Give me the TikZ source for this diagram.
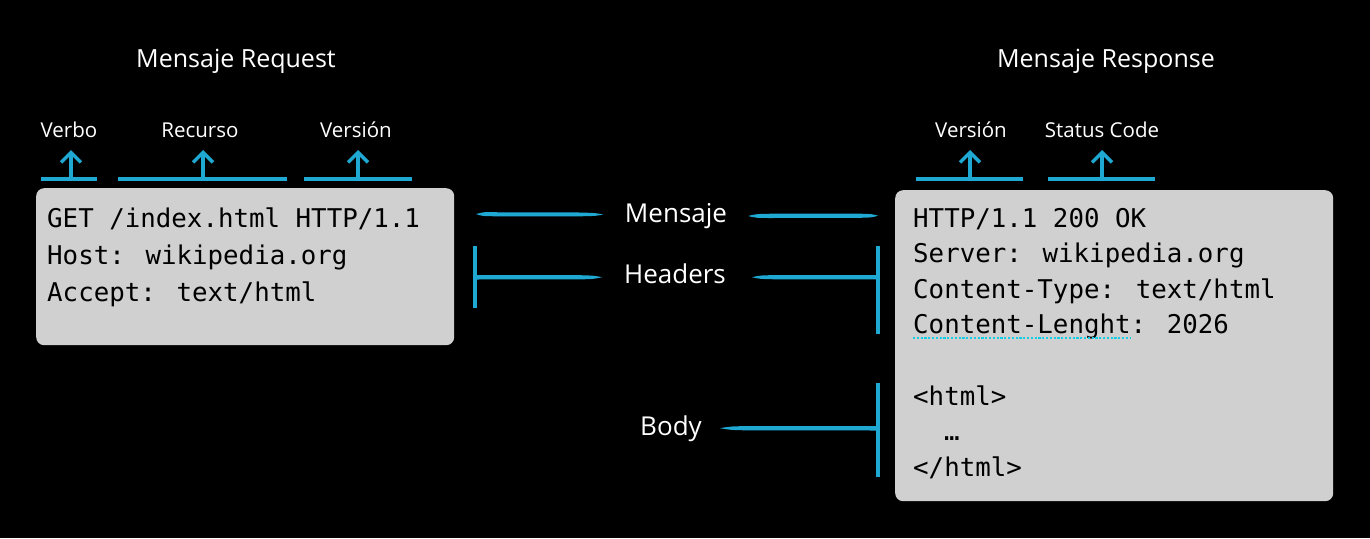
\documentclass[tikz,border=0pt]{standalone}
\usepackage{fontspec}
\setmainfont{Open Sans}
\newfontfamily\codefont{DejaVu Sans Mono}
\usetikzlibrary{arrows.meta,calc}
\definecolor{hl}{RGB}{30,168,210}
\definecolor{boxgray}{RGB}{208,208,208}
\definecolor{squig}{RGB}{20,205,230}
\begin{document}
\begin{tikzpicture}[x=1pt,y=-1pt,
  codebox/.style={fill=boxgray,draw=none,rounded corners=8pt,inner sep=0pt,anchor=north west},
  code/.style={font=\codefont\fontsize{25.8}{30}\selectfont,text=black,inner sep=0pt,anchor=base west},
  title/.style={font=\fontsize{25}{30}\selectfont,text=white,inner sep=0pt,anchor=base},
  small/.style={font=\fontsize{20.5}{24}\selectfont,text=white,inner sep=0pt,anchor=base},
  mid/.style={font=\fontsize{26}{30}\selectfont,text=white,inner sep=0pt,anchor=base},
  bar/.style={draw=hl,line width=4pt},
  uparrow/.style={draw=hl,line width=3.5pt,-{Straight Barb[length=10pt,width=20pt]}},
  brush/.style={fill=hl,draw=none}
]
\fill[black] (0,0) rectangle (1370,538);
\useasboundingbox (0,0) rectangle (1370,538);

% titles
\node[title] (treq) at (236,67) {Mensaje Request};
\node[title] (tres) at (1106,67) {Mensaje Response};

% boxes
\node[codebox,minimum width=418pt,minimum height=157pt] (req) at (36,188) {};
\node[codebox,minimum width=438pt,minimum height=311pt] (res) at (895,190) {};

% request text
\node[code] (q1) at (47,227) {GET /index.html HTTP/1.1};
\node[code] (q2) at (47,264) {Host: wikipedia.org};
\node[code] (q3) at (47,301) {Accept: text/html};

% response text
\node[code] (s1) at (913,227) {HTTP/1.1 200 OK};
\node[code] (s2) at (913,262.6) {Server: wikipedia.org};
\node[code] (s3) at (913,298.2) {Content-Type: text/html};
\node[code] (s4) at (913,333.8) {Content-Lenght: 2026};
\node[code] (s5) at (913,405) {<html>};
\node[code] (s6) at (944,440.6) {…};
\node[code] (s7) at (913,476.2) {</html>};
\draw[squig,line width=2.2pt,dash pattern=on 2.2pt off 1.6pt] ($(s4.base west)+(0,4)$) -- ++(217,0);

% top labels
\node[small] (lverbo) at (69,137) {Verbo};
\node[small] (lrec) at (200,137) {Recurso};
\node[small] (lver1) at (356,137) {Versión};
\node[small] (lver2) at (971,137) {Versión};
\node[small] (lstat) at (1102,137) {Status Code};

% bars and arrows
\coordinate (b1) at (71,179);
\coordinate (b2) at (203,179);
\coordinate (b3) at (358,179);
\coordinate (b4) at (970,179);
\coordinate (b5) at (1102,179);
\draw[bar] (41,179) -- (97,179);
\draw[bar] (118,179) -- (287,179);
\draw[bar] (304,179) -- (412,179);
\draw[bar] (916,179) -- (1023,179);
\draw[bar] (1048,179) -- (1155,179);
\draw[uparrow] (b1) -- (b1 |- 0,150);
\draw[uparrow] (b2) -- (b2 |- 0,150);
\draw[uparrow] (b3) -- (b3 |- 0,150);
\draw[uparrow] (b4) -- (b4 |- 0,150);
\draw[uparrow] (b5) -- (b5 |- 0,150);

% middle labels
\node[mid] (mmsg) at (676,222) {Mensaje};
\node[mid] (mhead) at (675,283) {Headers};
\node[mid] (mbody) at (671,435) {Body};

% Mensaje strokes (tapered both ends)
\fill[brush] (476,214) .. controls (482,212) .. (500,212.3) -- (580,212.5) .. controls (596,213) .. (603,214.5) .. controls (596,216) .. (580,216.3) -- (500,216.3) .. controls (482,216.2) .. cycle;
\fill[brush] (748,216) .. controls (756,214) .. (772,213.7) -- (860,213.7) .. controls (872,214) .. (878,215.7) .. controls (872,217.5) .. (860,217.8) -- (772,218) .. controls (756,218) .. cycle;

% Headers strokes
\draw[bar] (475,246) -- (475,308);
\fill[brush] (475,275) -- (580,275.2) .. controls (594,275.6) .. (602,277.2) .. controls (594,279) .. (580,279.4) -- (475,279.5) -- cycle;
\draw[bar] (878,246) -- (878,334);
\fill[brush] (752,277.2) .. controls (760,275.4) .. (775,275.1) -- (878,275) -- (878,279.5) -- (775,279.3) .. controls (760,279) .. cycle;

% Body stroke
\draw[bar] (878,383) -- (878,477);
\fill[brush] (720,428.2) .. controls (730,426.4) .. (750,426) -- (878,426) -- (878,430.5) -- (750,430.4) .. controls (730,430) .. cycle;
\end{tikzpicture}
\end{document}
